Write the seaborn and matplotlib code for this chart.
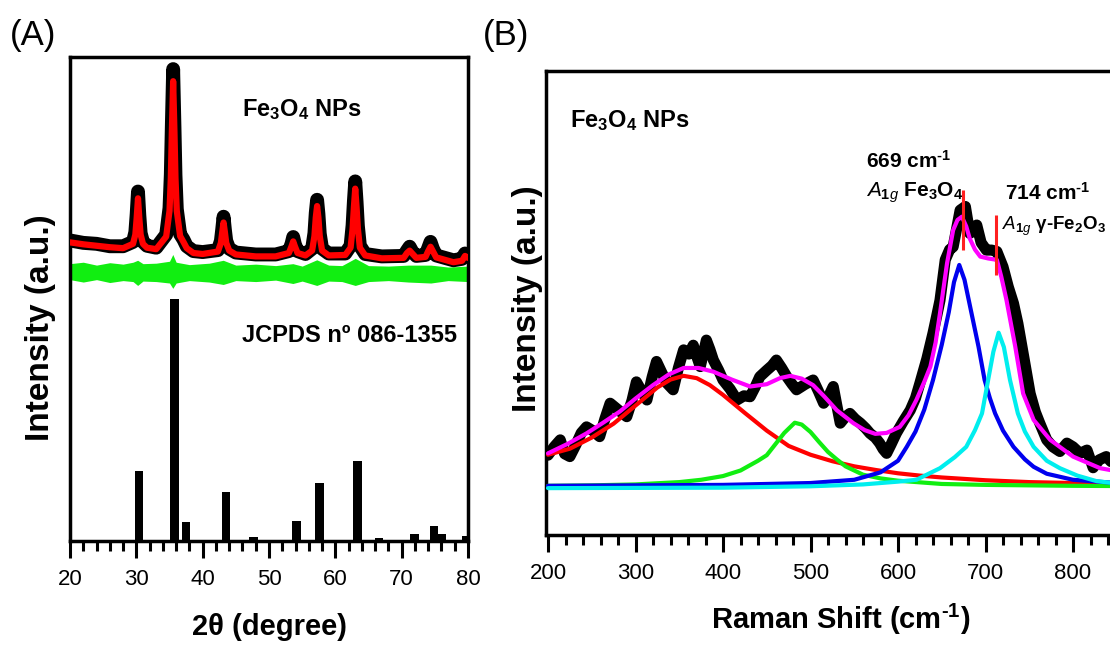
import matplotlib
matplotlib.use('Agg')
import matplotlib.pyplot as plt
from matplotlib.ticker import MultipleLocator
import seaborn as sns

# ---------------- (A) XRD data ----------------
xrd_x = [20.0, 22.0, 24.0, 26.0, 28.0, 29.5, 29.85, 30.05, 30.25, 30.45,
         30.65, 31.0, 31.6, 33.0, 34.5, 35.0, 35.2, 35.35, 35.55, 35.75,
         35.9, 36.1, 36.6, 37.1, 37.6, 38.6, 40.0, 42.3, 42.75, 42.95,
         43.15, 43.35, 43.55, 44.0, 45.0, 48.0, 51.0, 53.0, 53.4, 53.65,
         53.9, 54.3, 55.5, 56.5, 56.85, 57.05, 57.25, 57.45, 57.65, 58.0,
         59.0, 61.5, 62.3, 62.6, 62.8, 63.0, 63.2, 63.4, 63.7, 64.5,
         67.0, 70.3, 70.8, 71.2, 71.6, 72.2, 73.6, 74.0, 74.35, 74.7,
         75.2, 77.8, 79.1, 79.55, 80.0]
xrd_fit = [61.7, 61.3, 61.0, 60.7, 60.5, 61.4, 63.3, 66.7, 70.8, 66.7,
           63.3, 61.4, 60.6, 60.3, 62.9, 68.2, 75.0, 84.3, 95.0, 84.3,
           75.0, 68.2, 63.0, 61.8, 60.5, 59.5, 59.3, 59.8, 61.6, 63.8,
           65.8, 63.8, 61.6, 60.0, 59.2, 58.8, 58.8, 59.5, 60.9, 61.9,
           60.9, 59.5, 59.0, 60.0, 63.0, 66.8, 69.2, 66.8, 63.0, 60.0,
           59.0, 59.1, 60.6, 64.5, 69.0, 72.8, 69.0, 64.5, 60.6, 59.0,
           58.4, 58.5, 59.5, 60.0, 59.4, 58.5, 58.7, 59.9, 60.8, 59.9,
           58.6, 57.6, 57.9, 58.9, 58.5]
xrd_obs = [62.1, 61.6, 61.4, 60.9, 60.9, 61.8, 63.8, 67.5, 72.2, 67.3,
           63.6, 61.8, 61.0, 60.6, 63.3, 68.8, 75.8, 85.6, 97.5, 85.4,
           75.6, 68.6, 63.4, 62.3, 60.9, 59.9, 59.7, 60.1, 62.0, 64.4,
           67.0, 64.3, 62.0, 60.4, 59.6, 59.2, 59.2, 59.9, 61.4, 62.8,
           61.3, 59.9, 59.3, 60.4, 63.6, 67.8, 70.5, 67.6, 63.5, 60.4,
           59.4, 59.4, 61.0, 65.2, 70.2, 74.3, 70.1, 65.1, 61.0, 59.3,
           58.8, 58.9, 60.0, 60.8, 59.8, 58.9, 59.1, 60.5, 61.8, 60.4,
           59.0, 58.0, 58.3, 59.4, 58.9]

diff_x = [20, 22, 24, 26, 28, 29.5, 30.2, 31, 33, 35,
          35.5, 36, 38, 41, 43.1, 45, 48, 51, 53.6, 55,
          57.2, 59, 61, 63, 65, 68, 71, 74.4, 77, 80]
diff_hi = [57.3, 57.6, 57.0, 57.5, 57.2, 57.6, 58.0, 57.3, 57.4, 57.8,
           59.2, 57.6, 57.1, 57.4, 58.0, 57.0, 57.2, 56.9, 57.3, 56.8,
           58.1, 57.0, 56.9, 58.4, 56.9, 56.8, 57.0, 57.0, 56.6, 56.8]
diff_lo = [54.0, 53.5, 54.0, 53.4, 53.8, 53.6, 52.8, 53.7, 53.6, 53.3,
           52.2, 53.3, 53.8, 53.5, 53.0, 53.8, 53.6, 53.9, 53.2, 53.7,
           52.8, 53.7, 53.6, 52.8, 53.6, 53.8, 53.5, 53.3, 53.8, 53.6]

# JCPDS 086-1355 reference lines
jcpds_pos = [30.4, 35.8, 37.5, 43.5, 47.7, 54.1, 57.6, 63.3, 66.6, 71.9, 74.9, 76.1, 79.8]
jcpds_int = [14.5, 50.1, 3.9, 10.1, 0.8, 4.2, 12.0, 16.6, 0.6, 1.4, 3.2, 1.4, 1.1]

# ---------------- (B) Raman data ----------------
raman_x = [200, 207, 214, 219, 225, 232, 238, 244, 251, 259,
           265, 271, 280, 290, 296, 301, 307, 313, 319, 324,
           330, 336, 343, 349, 355, 361, 366, 370, 374, 378,
           381, 385, 389, 395, 400, 408, 416, 424, 431, 437,
           442, 450, 456, 461, 467, 473, 479, 484, 494, 503,
           509, 515, 521, 526, 530, 534, 540, 545, 551, 557,
           563, 568, 574, 579, 583, 587, 592, 598, 606, 614,
           620, 625, 633, 640, 644, 648, 654, 659, 663, 667,
           671, 677, 682, 686, 690, 695, 701, 707, 713, 720,
           726, 732, 737, 745, 751, 757, 762, 770, 777, 785,
           793, 800, 808, 816, 823, 830, 838, 845, 860, 880, 898]
raman_obs = [17.2, 19.0, 20.5, 17.5, 16.9, 19.5, 22.0, 23.3, 22.5, 21.2,
             25.0, 28.4, 27.0, 25.5, 29.0, 33.0, 31.0, 29.1, 34.0, 37.4,
             35.0, 32.7, 31.3, 36.0, 39.9, 39.0, 40.9, 38.5, 36.3, 39.5,
             42.0, 40.0, 37.7, 35.5, 33.4, 31.5, 29.1, 30.0, 29.8, 32.0,
             34.1, 35.5, 36.5, 37.7, 36.0, 34.1, 32.5, 31.3, 32.5, 33.4,
             31.0, 28.4, 30.0, 32.0, 28.0, 24.1, 25.5, 26.2, 25.0, 24.1,
             23.0, 21.9, 21.0, 19.8, 18.5, 17.6, 19.5, 21.9, 24.5, 26.9,
             29.5, 32.7, 38.0, 43.5, 47.0, 50.6, 59.3, 61.5, 62.1, 66.0,
             70.0, 70.8, 65.0, 65.5, 66.8, 63.0, 61.4, 61.4, 61.1, 57.8,
             53.5, 49.9, 45.6, 37.0, 30.5, 26.5, 24.1, 20.5, 19.0, 18.0,
             19.8, 19.0, 17.6, 18.3, 14.5, 16.2, 16.9, 15.5, 15.0, 14.5, 14.0]

red_x = [200, 225, 250, 275, 300, 325, 340, 355, 370, 385, 400, 425, 450,
         475, 500, 525, 550, 575, 600, 625, 650, 700, 750, 800, 850, 898]
red_y = [17.3, 18.6, 21.0, 24.0, 27.9, 31.8, 33.5, 34.3, 33.8, 32.3, 30.2, 26.3, 22.5,
         19.2, 17.3, 15.9, 14.8, 14.0, 13.3, 12.8, 12.4, 11.8, 11.4, 11.2, 11.0, 10.9]

green_x = [200, 250, 300, 350, 375, 400, 420, 440, 450, 460, 470, 482, 490,
           500, 510, 520, 530, 540, 560, 580, 600, 650, 700, 800, 898]
green_y = [10.6, 10.7, 10.9, 11.4, 11.9, 12.7, 13.9, 16.0, 17.2, 19.6, 22.0, 24.2, 23.8,
           22.2, 20.0, 17.9, 16.3, 14.8, 13.0, 12.2, 11.7, 11.0, 10.8, 10.6, 10.5]

blue_x = [200, 400, 500, 550, 580, 600, 610, 620, 630, 640, 650, 658, 664, 670,
          676, 684, 692, 699, 705, 711, 720, 732, 745, 755, 770, 800, 850, 898]
blue_y = [10.6, 10.8, 11.2, 11.9, 13.5, 16.0, 19.0, 22.3, 27.0, 33.4, 41.0, 48.0, 54.5, 58.2,
          55.0, 47.8, 40.6, 33.4, 29.5, 26.2, 22.5, 19.0, 16.3, 14.7, 13.2, 11.9, 11.2, 10.9]

cyan_x = [200, 400, 500, 560, 600, 621, 648, 665, 678, 688, 696, 703, 709,
          715, 721, 728, 737, 745, 755, 770, 785, 805, 827, 860, 898]
cyan_y = [10.1, 10.2, 10.5, 10.9, 11.5, 11.9, 14.4, 16.8, 19.0, 22.6, 26.2, 33.4, 39.5,
          43.6, 40.5, 33.4, 26.2, 22.3, 19.0, 16.0, 14.4, 12.8, 11.6, 10.9, 10.5]

fit_x = [200, 222, 244, 263, 282, 300, 320, 338, 355, 372, 389, 410, 431,
         450, 465, 477, 490, 503, 516, 530, 549, 562, 574, 587, 602, 612,
         621, 630, 637, 643, 648, 656, 663, 668, 673, 678, 682, 688, 694,
         703, 713, 718, 724, 734, 743, 755, 774, 800, 831, 860, 898]
fit_y = [17.6, 19.6, 21.9, 24.2, 26.6, 29.4, 32.3, 34.6, 36.0, 36.0, 35.2, 33.5, 32.0,
         32.5, 33.8, 34.3, 33.7, 32.3, 29.8, 26.9, 24.1, 22.6, 21.8, 22.0, 23.3, 25.8,
         29.1, 33.0, 36.3, 41.5, 47.8, 58.5, 65.7, 67.9, 68.6, 66.5, 63.9, 61.5, 60.0,
         59.6, 59.3, 55.7, 50.6, 40.6, 30.5, 24.8, 20.5, 16.9, 14.4, 13.4, 12.5]

# band markers (position, bottom, top)
mark_x = [674, 712]
mark_lo = [61.5, 56.0]
mark_hi = [74.4, 69.0]

# ---------------- style ----------------
sns.set_theme(style='ticks')
plt.rcParams['font.family'] = ['Liberation Sans', 'DejaVu Sans']
plt.rcParams['text.color'] = 'black'
plt.rcParams['axes.labelcolor'] = 'black'
plt.rcParams['xtick.color'] = 'black'
plt.rcParams['xtick.labelcolor'] = 'black'
plt.rcParams['mathtext.fontset'] = 'custom'
plt.rcParams['mathtext.rm'] = 'Liberation Sans:bold'
plt.rcParams['mathtext.it'] = 'Liberation Sans:italic'
plt.rcParams['mathtext.bf'] = 'Liberation Sans:bold'
plt.rcParams['mathtext.default'] = 'rm'

W, H = 1110, 645
fig = plt.figure(figsize=(W / 100, H / 100), dpi=100)
axA = fig.add_axes([70 / W, (H - 541) / H, 398 / W, 484 / H])
# panel B runs past the right edge of the picture, as in the original
axB = fig.add_axes([546.25 / W, (H - 535) / H, 612.5 / W, 464 / H])


def style_axes(ax, major, minor):
    for s in ax.spines.values():
        s.set_linewidth(2.5)
        s.set_color('black')
    ax.xaxis.set_major_locator(MultipleLocator(major))
    ax.xaxis.set_minor_locator(MultipleLocator(minor))
    ax.tick_params(axis='x', which='major', direction='out', length=12, width=2.2,
                   pad=8, labelsize=16, color='black', labelcolor='black',
                   bottom=True, top=False)
    ax.tick_params(axis='x', which='minor', direction='out', length=7.2, width=2.2,
                   bottom=True, top=False, color='black')
    ax.tick_params(axis='y', which='both', left=False, right=False, labelleft=False)
    ax.set_yticks([])


# ---------------- (A) ----------------
axA.bar(jcpds_pos, jcpds_int, width=1.3, color='black', edgecolor='none', zorder=2)
axA.fill_between(diff_x, diff_lo, diff_hi, color='#11ee11', lw=0, zorder=2)
sns.lineplot(x=xrd_x, y=xrd_obs, ax=axA, color='black', linewidth=10, sort=False,
             estimator=None, solid_capstyle='round', solid_joinstyle='round', zorder=3)
sns.lineplot(x=xrd_x, y=xrd_fit, ax=axA, color='#ff0000', linewidth=4.5, sort=False,
             estimator=None, zorder=4)
axA.set_xlim(20, 80)
axA.set_ylim(0, 100)
style_axes(axA, 10, 2)
axA.text(45.9, 87.7, 'Fe$_3$O$_4$ NPs', fontsize=17, fontweight='bold', va='baseline')
axA.text(45.9, 41.2, 'JCPDS nº 086-1355', fontsize=17, fontweight='bold', va='baseline')
axA.set_xlabel('2θ (degree)', fontsize=21, fontweight='bold')
axA.xaxis.set_label_coords(0.5, -0.149)
axA.set_ylabel('Intensity (a.u.)', fontsize=24, fontweight='bold')
axA.yaxis.set_label_coords(-0.036, 0.441)

# ---------------- (B) ----------------
sns.lineplot(x=raman_x, y=raman_obs, ax=axB, color='black', linewidth=8, sort=False,
             estimator=None, solid_capstyle='round', solid_joinstyle='round', zorder=2)
sns.lineplot(x=red_x, y=red_y, ax=axB, color='#ff0000', linewidth=3, sort=False, estimator=None, zorder=3)
sns.lineplot(x=green_x, y=green_y, ax=axB, color='#11ee11', linewidth=3, sort=False, estimator=None, zorder=3)
sns.lineplot(x=blue_x, y=blue_y, ax=axB, color='#0000ee', linewidth=3, sort=False, estimator=None, zorder=3)
sns.lineplot(x=cyan_x, y=cyan_y, ax=axB, color='#00eeee', linewidth=3, sort=False, estimator=None, zorder=3)
sns.lineplot(x=fit_x, y=fit_y, ax=axB, color='#ff00ff', linewidth=3, sort=False, estimator=None, zorder=4)
axB.vlines(mark_x, mark_lo, mark_hi, color='#ff2020', linewidth=2.2, zorder=5)
axB.set_xlim(198, 898)
axB.set_ylim(0, 100)
style_axes(axB, 100, 20)
axB.text(225, 88.0, 'Fe$_3$O$_4$ NPs', fontsize=17, fontweight='bold', va='baseline')
axB.text(564, 79.1, '669 cm$^{\u20101}$', fontsize=15, fontweight='bold', va='baseline')
axB.text(564, 72.9, r'$\mathit{A}_{\mathit{1g}}$ Fe$_3$O$_4$', fontsize=15, fontweight='bold', va='baseline')
axB.text(722, 72.2, '714 cm$^{\u20101}$', fontsize=15, fontweight='bold', va='baseline')
axB.text(719, 65.7, r'$\mathit{A}_{\mathit{1g}}$ γ-Fe$_2$O$_3$', fontsize=13.5, fontweight='bold', va='baseline')
axB.set_xlabel('Raman Shift (cm$^{\u20101}$)', fontsize=21, fontweight='bold')
axB.xaxis.set_label_coords(0.480, -0.144)
axB.set_ylabel('Intensity (a.u.)', fontsize=24, fontweight='bold')
axB.yaxis.set_label_coords(-0.006, 0.509)

fig.text(10 / W, 1 - 45 / H, '(A)', fontsize=25, va='baseline')
fig.text(483 / W, 1 - 45 / H, '(B)', fontsize=25, va='baseline')

fig.savefig('out.png', dpi=100)
